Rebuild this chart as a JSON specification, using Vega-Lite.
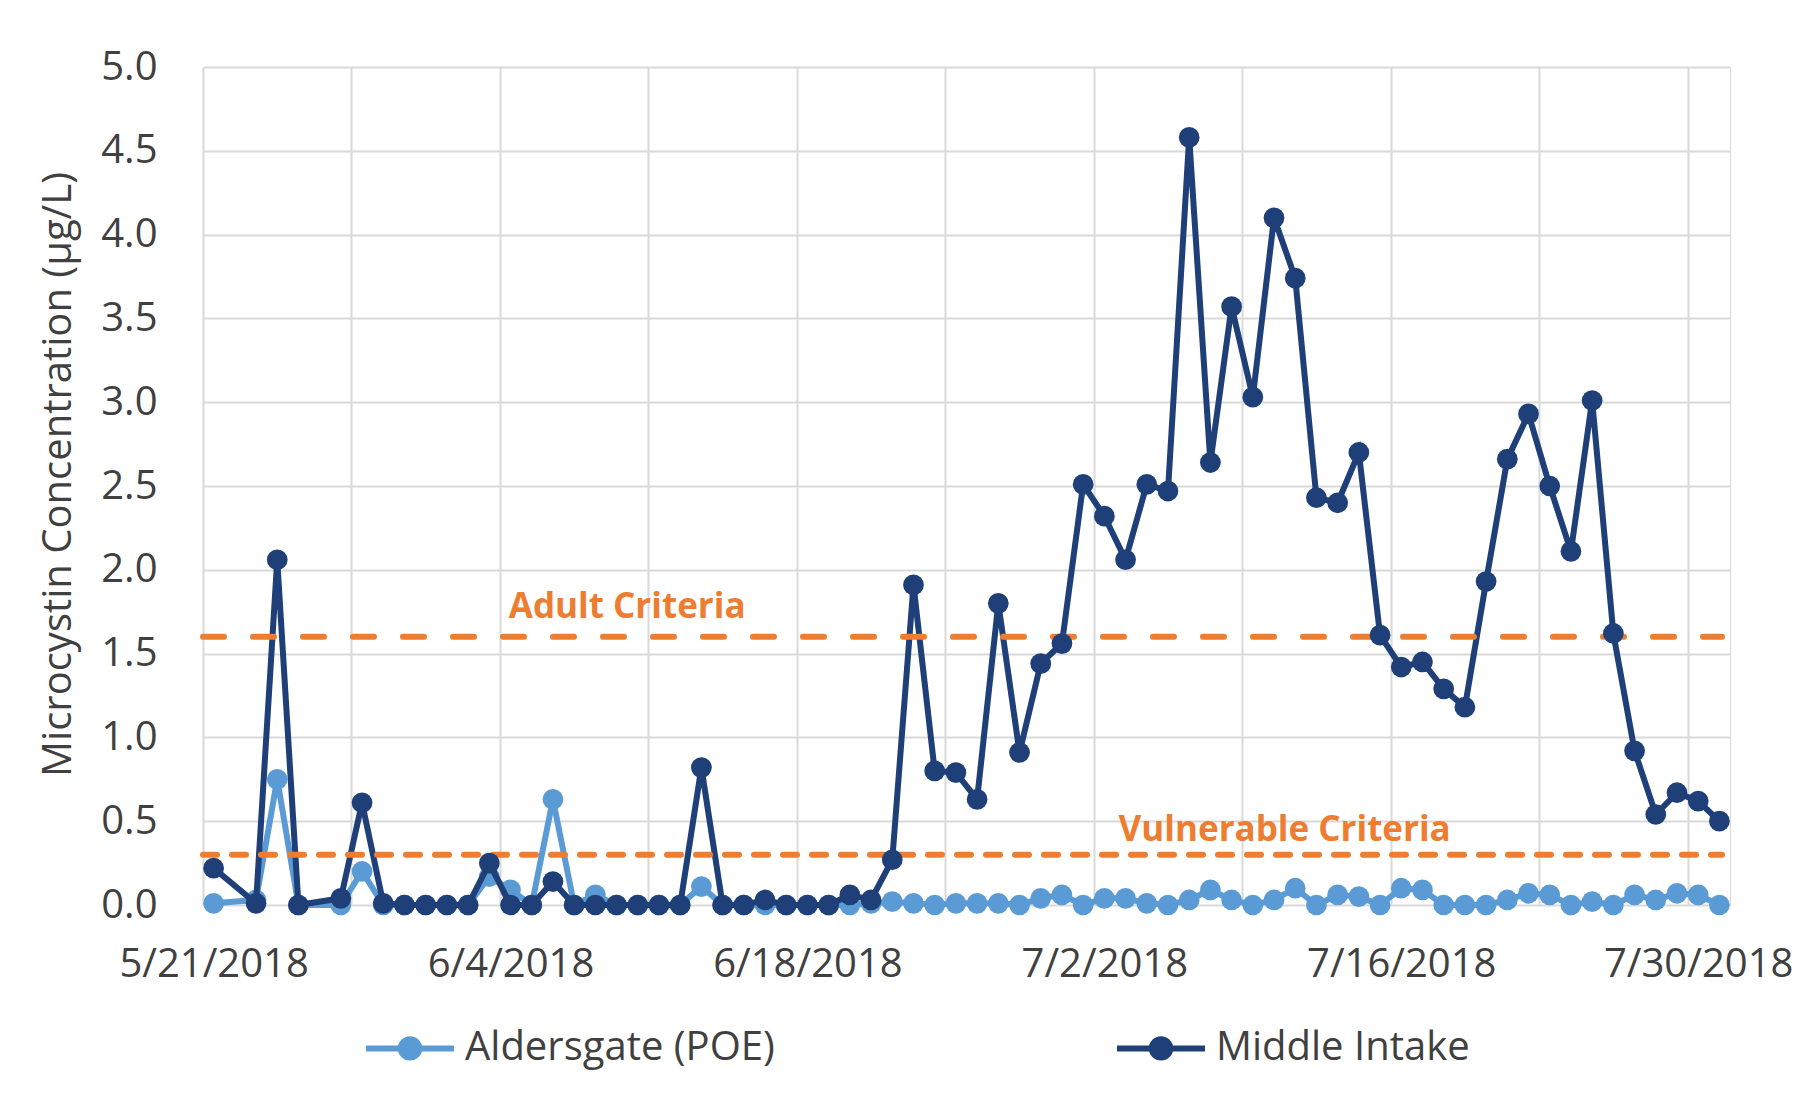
{
  "$schema": "https://vega.github.io/schema/vega-lite/v6.json",
  "width": 1527,
  "height": 838,
  "autosize": {"type": "none"},
  "padding": {"left": 203, "top": 67, "right": 75, "bottom": 211},
  "background": "white",
  "config": {"font": "Open Sans", "view": {"stroke": "#D9D9D9", "strokeWidth": 1}},
  "datasets": {
    "obs": [
      {"date": "2018/05/21", "series": "Middle Intake", "value": 0.22},
      {"date": "2018/05/23", "series": "Middle Intake", "value": 0.01},
      {"date": "2018/05/24", "series": "Middle Intake", "value": 2.06},
      {"date": "2018/05/25", "series": "Middle Intake", "value": 0.0},
      {"date": "2018/05/27", "series": "Middle Intake", "value": 0.04},
      {"date": "2018/05/28", "series": "Middle Intake", "value": 0.61},
      {"date": "2018/05/29", "series": "Middle Intake", "value": 0.01},
      {"date": "2018/05/30", "series": "Middle Intake", "value": 0.0},
      {"date": "2018/05/31", "series": "Middle Intake", "value": 0.0},
      {"date": "2018/06/01", "series": "Middle Intake", "value": 0.0},
      {"date": "2018/06/02", "series": "Middle Intake", "value": 0.0},
      {"date": "2018/06/03", "series": "Middle Intake", "value": 0.25},
      {"date": "2018/06/04", "series": "Middle Intake", "value": 0.0},
      {"date": "2018/06/05", "series": "Middle Intake", "value": 0.0},
      {"date": "2018/06/06", "series": "Middle Intake", "value": 0.14},
      {"date": "2018/06/07", "series": "Middle Intake", "value": 0.0},
      {"date": "2018/06/08", "series": "Middle Intake", "value": 0.0},
      {"date": "2018/06/09", "series": "Middle Intake", "value": 0.0},
      {"date": "2018/06/10", "series": "Middle Intake", "value": 0.0},
      {"date": "2018/06/11", "series": "Middle Intake", "value": 0.0},
      {"date": "2018/06/12", "series": "Middle Intake", "value": 0.0},
      {"date": "2018/06/13", "series": "Middle Intake", "value": 0.82},
      {"date": "2018/06/14", "series": "Middle Intake", "value": 0.0},
      {"date": "2018/06/15", "series": "Middle Intake", "value": 0.0},
      {"date": "2018/06/16", "series": "Middle Intake", "value": 0.03},
      {"date": "2018/06/17", "series": "Middle Intake", "value": 0.0},
      {"date": "2018/06/18", "series": "Middle Intake", "value": 0.0},
      {"date": "2018/06/19", "series": "Middle Intake", "value": 0.0},
      {"date": "2018/06/20", "series": "Middle Intake", "value": 0.06},
      {"date": "2018/06/21", "series": "Middle Intake", "value": 0.03},
      {"date": "2018/06/22", "series": "Middle Intake", "value": 0.27},
      {"date": "2018/06/23", "series": "Middle Intake", "value": 1.91},
      {"date": "2018/06/24", "series": "Middle Intake", "value": 0.8},
      {"date": "2018/06/25", "series": "Middle Intake", "value": 0.79},
      {"date": "2018/06/26", "series": "Middle Intake", "value": 0.63},
      {"date": "2018/06/27", "series": "Middle Intake", "value": 1.8},
      {"date": "2018/06/28", "series": "Middle Intake", "value": 0.91},
      {"date": "2018/06/29", "series": "Middle Intake", "value": 1.44},
      {"date": "2018/06/30", "series": "Middle Intake", "value": 1.56},
      {"date": "2018/07/01", "series": "Middle Intake", "value": 2.51},
      {"date": "2018/07/02", "series": "Middle Intake", "value": 2.32},
      {"date": "2018/07/03", "series": "Middle Intake", "value": 2.06},
      {"date": "2018/07/04", "series": "Middle Intake", "value": 2.51},
      {"date": "2018/07/05", "series": "Middle Intake", "value": 2.47},
      {"date": "2018/07/06", "series": "Middle Intake", "value": 4.58},
      {"date": "2018/07/07", "series": "Middle Intake", "value": 2.64},
      {"date": "2018/07/08", "series": "Middle Intake", "value": 3.57},
      {"date": "2018/07/09", "series": "Middle Intake", "value": 3.03},
      {"date": "2018/07/10", "series": "Middle Intake", "value": 4.1},
      {"date": "2018/07/11", "series": "Middle Intake", "value": 3.74},
      {"date": "2018/07/12", "series": "Middle Intake", "value": 2.43},
      {"date": "2018/07/13", "series": "Middle Intake", "value": 2.4},
      {"date": "2018/07/14", "series": "Middle Intake", "value": 2.7},
      {"date": "2018/07/15", "series": "Middle Intake", "value": 1.61},
      {"date": "2018/07/16", "series": "Middle Intake", "value": 1.42},
      {"date": "2018/07/17", "series": "Middle Intake", "value": 1.45},
      {"date": "2018/07/18", "series": "Middle Intake", "value": 1.29},
      {"date": "2018/07/19", "series": "Middle Intake", "value": 1.18},
      {"date": "2018/07/20", "series": "Middle Intake", "value": 1.93},
      {"date": "2018/07/21", "series": "Middle Intake", "value": 2.66},
      {"date": "2018/07/22", "series": "Middle Intake", "value": 2.93},
      {"date": "2018/07/23", "series": "Middle Intake", "value": 2.5},
      {"date": "2018/07/24", "series": "Middle Intake", "value": 2.11},
      {"date": "2018/07/25", "series": "Middle Intake", "value": 3.01},
      {"date": "2018/07/26", "series": "Middle Intake", "value": 1.62},
      {"date": "2018/07/27", "series": "Middle Intake", "value": 0.92},
      {"date": "2018/07/28", "series": "Middle Intake", "value": 0.54},
      {"date": "2018/07/29", "series": "Middle Intake", "value": 0.67},
      {"date": "2018/07/30", "series": "Middle Intake", "value": 0.62},
      {"date": "2018/07/31", "series": "Middle Intake", "value": 0.5},
      {"date": "2018/05/21", "series": "Aldersgate (POE)", "value": 0.01},
      {"date": "2018/05/23", "series": "Aldersgate (POE)", "value": 0.03},
      {"date": "2018/05/24", "series": "Aldersgate (POE)", "value": 0.75},
      {"date": "2018/05/25", "series": "Aldersgate (POE)", "value": 0.0},
      {"date": "2018/05/27", "series": "Aldersgate (POE)", "value": 0.0},
      {"date": "2018/05/28", "series": "Aldersgate (POE)", "value": 0.2},
      {"date": "2018/05/29", "series": "Aldersgate (POE)", "value": 0.0},
      {"date": "2018/05/30", "series": "Aldersgate (POE)", "value": 0.0},
      {"date": "2018/05/31", "series": "Aldersgate (POE)", "value": 0.0},
      {"date": "2018/06/01", "series": "Aldersgate (POE)", "value": 0.0},
      {"date": "2018/06/02", "series": "Aldersgate (POE)", "value": 0.0},
      {"date": "2018/06/03", "series": "Aldersgate (POE)", "value": 0.17},
      {"date": "2018/06/04", "series": "Aldersgate (POE)", "value": 0.09},
      {"date": "2018/06/05", "series": "Aldersgate (POE)", "value": 0.0},
      {"date": "2018/06/06", "series": "Aldersgate (POE)", "value": 0.63},
      {"date": "2018/06/07", "series": "Aldersgate (POE)", "value": 0.0},
      {"date": "2018/06/08", "series": "Aldersgate (POE)", "value": 0.06},
      {"date": "2018/06/09", "series": "Aldersgate (POE)", "value": 0.0},
      {"date": "2018/06/10", "series": "Aldersgate (POE)", "value": 0.0},
      {"date": "2018/06/11", "series": "Aldersgate (POE)", "value": 0.0},
      {"date": "2018/06/12", "series": "Aldersgate (POE)", "value": 0.0},
      {"date": "2018/06/13", "series": "Aldersgate (POE)", "value": 0.11},
      {"date": "2018/06/14", "series": "Aldersgate (POE)", "value": 0.0},
      {"date": "2018/06/15", "series": "Aldersgate (POE)", "value": 0.0},
      {"date": "2018/06/16", "series": "Aldersgate (POE)", "value": 0.0},
      {"date": "2018/06/17", "series": "Aldersgate (POE)", "value": 0.0},
      {"date": "2018/06/18", "series": "Aldersgate (POE)", "value": 0.0},
      {"date": "2018/06/19", "series": "Aldersgate (POE)", "value": 0.0},
      {"date": "2018/06/20", "series": "Aldersgate (POE)", "value": 0.0},
      {"date": "2018/06/21", "series": "Aldersgate (POE)", "value": 0.01},
      {"date": "2018/06/22", "series": "Aldersgate (POE)", "value": 0.02},
      {"date": "2018/06/23", "series": "Aldersgate (POE)", "value": 0.01},
      {"date": "2018/06/24", "series": "Aldersgate (POE)", "value": 0.0},
      {"date": "2018/06/25", "series": "Aldersgate (POE)", "value": 0.01},
      {"date": "2018/06/26", "series": "Aldersgate (POE)", "value": 0.01},
      {"date": "2018/06/27", "series": "Aldersgate (POE)", "value": 0.01},
      {"date": "2018/06/28", "series": "Aldersgate (POE)", "value": 0.0},
      {"date": "2018/06/29", "series": "Aldersgate (POE)", "value": 0.04},
      {"date": "2018/06/30", "series": "Aldersgate (POE)", "value": 0.06},
      {"date": "2018/07/01", "series": "Aldersgate (POE)", "value": 0.0},
      {"date": "2018/07/02", "series": "Aldersgate (POE)", "value": 0.04},
      {"date": "2018/07/03", "series": "Aldersgate (POE)", "value": 0.04},
      {"date": "2018/07/04", "series": "Aldersgate (POE)", "value": 0.01},
      {"date": "2018/07/05", "series": "Aldersgate (POE)", "value": 0.0},
      {"date": "2018/07/06", "series": "Aldersgate (POE)", "value": 0.03},
      {"date": "2018/07/07", "series": "Aldersgate (POE)", "value": 0.09},
      {"date": "2018/07/08", "series": "Aldersgate (POE)", "value": 0.03},
      {"date": "2018/07/09", "series": "Aldersgate (POE)", "value": 0.0},
      {"date": "2018/07/10", "series": "Aldersgate (POE)", "value": 0.03},
      {"date": "2018/07/11", "series": "Aldersgate (POE)", "value": 0.1},
      {"date": "2018/07/12", "series": "Aldersgate (POE)", "value": 0.0},
      {"date": "2018/07/13", "series": "Aldersgate (POE)", "value": 0.06},
      {"date": "2018/07/14", "series": "Aldersgate (POE)", "value": 0.05},
      {"date": "2018/07/15", "series": "Aldersgate (POE)", "value": 0.0},
      {"date": "2018/07/16", "series": "Aldersgate (POE)", "value": 0.1},
      {"date": "2018/07/17", "series": "Aldersgate (POE)", "value": 0.09},
      {"date": "2018/07/18", "series": "Aldersgate (POE)", "value": 0.0},
      {"date": "2018/07/19", "series": "Aldersgate (POE)", "value": 0.0},
      {"date": "2018/07/20", "series": "Aldersgate (POE)", "value": 0.0},
      {"date": "2018/07/21", "series": "Aldersgate (POE)", "value": 0.03},
      {"date": "2018/07/22", "series": "Aldersgate (POE)", "value": 0.07},
      {"date": "2018/07/23", "series": "Aldersgate (POE)", "value": 0.06},
      {"date": "2018/07/24", "series": "Aldersgate (POE)", "value": 0.0},
      {"date": "2018/07/25", "series": "Aldersgate (POE)", "value": 0.02},
      {"date": "2018/07/26", "series": "Aldersgate (POE)", "value": 0.0},
      {"date": "2018/07/27", "series": "Aldersgate (POE)", "value": 0.06},
      {"date": "2018/07/28", "series": "Aldersgate (POE)", "value": 0.03},
      {"date": "2018/07/29", "series": "Aldersgate (POE)", "value": 0.07},
      {"date": "2018/07/30", "series": "Aldersgate (POE)", "value": 0.06},
      {"date": "2018/07/31", "series": "Aldersgate (POE)", "value": 0.0}
    ],
    "crit": [
      {"name": "Adult Criteria", "value": 1.6, "start": "2018/05/21", "end": "2018/08/01"},
      {"name": "Vulnerable Criteria", "value": 0.3, "start": "2018/05/21", "end": "2018/08/01"}
    ],
    "notes": [
      {"text": "Adult Criteria", "date": "2018/06/10", "value": 1.71},
      {"text": "Vulnerable Criteria", "date": "2018/07/11", "value": 0.38}
    ]
  },
  "encoding": {
    "y": {
      "field": "value",
      "type": "quantitative",
      "scale": {"domain": [0, 5], "nice": false},
      "axis": {
        "values": [0, 0.5, 1, 1.5, 2, 2.5, 3, 3.5, 4, 4.5, 5],
        "format": ".1f",
        "labelFontSize": 40,
        "labelColor": "#404040",
        "labelPadding": 46,
        "ticks": false,
        "domain": false,
        "grid": true,
        "gridColor": "#D9D9D9",
        "gridWidth": 2,
        "title": "Microcystin Concentration (µg/L)",
        "titleFontSize": 40,
        "titleFontWeight": "normal",
        "titleColor": "#404040",
        "titlePadding": 22,
        "titleY": 407
      }
    }
  },
  "layer": [
    {
      "data": {"name": "obs"},
      "transform": [{"filter": "datum.series === 'Aldersgate (POE)'"}],
      "mark": {"type": "line", "strokeWidth": 6},
      "encoding": {
        "x": {
          "field": "date",
          "type": "temporal",
          "timeUnit": "yearmonthdate",
          "bandPosition": 0.5,
          "title": null,
          "scale": {"domain": [{"year": 2018, "month": 5, "date": 21}, {"year": 2018, "month": 8, "date": 1}]},
          "axis": {
            "values": [
              {"year": 2018, "month": 5, "date": 21},
              {"year": 2018, "month": 5, "date": 28},
              {"year": 2018, "month": 6, "date": 4},
              {"year": 2018, "month": 6, "date": 11},
              {"year": 2018, "month": 6, "date": 18},
              {"year": 2018, "month": 6, "date": 25},
              {"year": 2018, "month": 7, "date": 2},
              {"year": 2018, "month": 7, "date": 9},
              {"year": 2018, "month": 7, "date": 16},
              {"year": 2018, "month": 7, "date": 23},
              {"year": 2018, "month": 7, "date": 30}
            ],
            "labelExpr": "round((datum.value - datetime(2018, 4, 21)) / 86400000) % 14 == 0 ? timeFormat(datum.value, '%-m/%-d/%Y') : ''",
            "labelOffset": 10.6,
            "labelPadding": 39,
            "labelFontSize": 40,
            "labelColor": "#404040",
            "labelLimit": 0,
            "labelFlush": false,
            "labelOverlap": false,
            "labelBound": false,
            "ticks": false,
            "domain": false,
            "grid": true,
            "gridColor": "#D9D9D9",
            "gridWidth": 2,
            "title": null
          }
        },
        "color": {
          "field": "series",
          "type": "nominal",
          "scale": {"domain": ["Aldersgate (POE)", "Middle Intake"], "range": ["#5B9BD5", "#1F3F78"]},
          "legend": {
            "title": null,
            "orient": "none",
            "legendX": 160,
            "legendY": 934,
            "direction": "horizontal",
            "columns": 2,
            "columnPadding": 330,
            "padding": 0,
            "symbolType": "M-1,0L1,0M0.21,0A0.21,0.21,0,1,1,-0.21,0A0.21,0.21,0,1,1,0.21,0Z",
            "symbolSize": 7744,
            "symbolStrokeWidth": 6,
            "labelFontSize": 40,
            "labelColor": "#404040",
            "labelOffset": 8,
            "labelLimit": 0,
            "encode": {
              "symbols": {
                "update": {
                  "fill": {"scale": "color", "field": "value"},
                  "stroke": {"scale": "color", "field": "value"},
                  "opacity": {"value": 1}
                }
              }
            }
          }
        }
      }
    },
    {
      "data": {"name": "obs"},
      "transform": [{"filter": "datum.series === 'Aldersgate (POE)'"}],
      "mark": {"type": "point", "filled": true, "size": 430, "opacity": 1, "strokeWidth": 0},
      "encoding": {
        "x": {"field": "date", "type": "temporal", "timeUnit": "yearmonthdate", "bandPosition": 0.5, "title": null},
        "color": {"field": "series", "type": "nominal"}
      }
    },
    {
      "data": {"name": "obs"},
      "transform": [{"filter": "datum.series === 'Middle Intake'"}],
      "mark": {"type": "line", "strokeWidth": 6},
      "encoding": {
        "x": {"field": "date", "type": "temporal", "timeUnit": "yearmonthdate", "bandPosition": 0.5, "title": null},
        "color": {"field": "series", "type": "nominal"}
      }
    },
    {
      "data": {"name": "crit"},
      "transform": [{"filter": "datum.name === 'Adult Criteria'"}],
      "mark": {"type": "rule", "color": "#ED7D31", "strokeWidth": 6, "strokeDash": [21, 29], "strokeCap": "round", "x2Offset": -8},
      "encoding": {
        "x": {"field": "start", "type": "temporal", "title": null},
        "x2": {"field": "end"}
      }
    },
    {
      "data": {"name": "crit"},
      "transform": [{"filter": "datum.name === 'Vulnerable Criteria'"}],
      "mark": {"type": "rule", "color": "#ED7D31", "strokeWidth": 6, "strokeDash": [14, 15], "strokeCap": "round", "x2Offset": -8},
      "encoding": {
        "x": {"field": "start", "type": "temporal", "title": null},
        "x2": {"field": "end"}
      }
    },
    {
      "data": {"name": "obs"},
      "transform": [{"filter": "datum.series === 'Middle Intake'"}],
      "mark": {"type": "point", "filled": true, "size": 430, "opacity": 1, "strokeWidth": 0},
      "encoding": {
        "x": {"field": "date", "type": "temporal", "timeUnit": "yearmonthdate", "bandPosition": 0.5, "title": null},
        "color": {"field": "series", "type": "nominal"}
      }
    },
    {
      "data": {"name": "notes"},
      "mark": {"type": "text", "color": "#ED7D31", "fontSize": 35, "fontWeight": "bold", "align": "center", "baseline": "alphabetic"},
      "encoding": {
        "x": {"field": "date", "type": "temporal", "title": null},
        "text": {"field": "text"}
      }
    }
  ]
}
